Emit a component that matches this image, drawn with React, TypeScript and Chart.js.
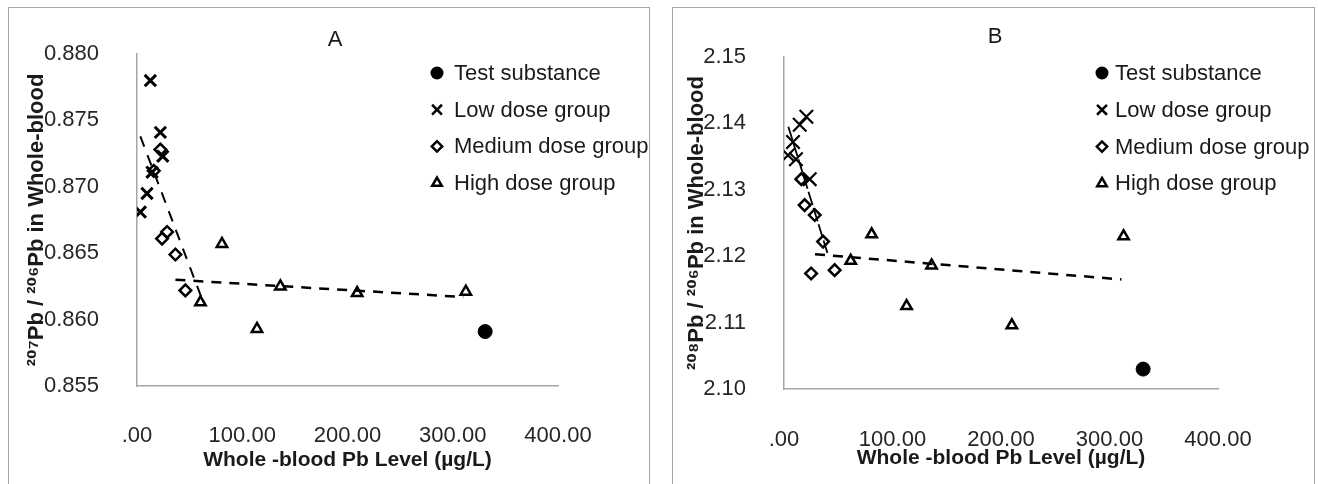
import React, { useEffect, useRef } from 'react';
import { Chart, registerables } from 'chart.js';

Chart.register(...registerables);

// ---------- shared ----------
const seriesNames = ['Test substance', 'Low dose group', 'Medium dose group', 'High dose group'];
const xTicks = [0, 100, 200, 300, 400];
const xTickLabels = ['.00', '100.00', '200.00', '300.00', '400.00'];
const xTitle = 'Whole -blood Pb Level (µg/L)';

// ---------- panel A : 207Pb/206Pb ----------
const yTicksA = [0.855, 0.86, 0.865, 0.87, 0.875, 0.88];
const yTickLabelsA = ['0.855', '0.860', '0.865', '0.870', '0.875', '0.880'];
const testXA = [330.8];
const testYA = [0.8591];
const lowXA = [3.2, 9.5, 12.7, 14.3, 22.2, 24.5];
const lowYA = [0.8681, 0.8695, 0.878, 0.8711, 0.8741, 0.8723];
const medXA = [15.9, 22.2, 23.8, 28.6, 36.5, 46];
const medYA = [0.8712, 0.8728, 0.8661, 0.8666, 0.8649, 0.8622];
const highXA = [60.3, 80.7, 114, 136.2, 209.2, 312.4];
const highYA = [0.8613, 0.8657, 0.8593, 0.8625, 0.862, 0.8621];
const trend1XA = [3.2, 62];
const trend1YA = [0.8738, 0.8615];
const trend2XA = [36.5, 310];
const trend2YA = [0.863, 0.8617];

// ---------- panel B : 208Pb/206Pb ----------
const yTicksB = [2.1, 2.11, 2.12, 2.13, 2.14, 2.15];
const yTickLabelsB = ['2.10', '2.11', '2.12', '2.13', '2.14', '2.15'];
const testXB = [331];
const testYB = [2.103];
const lowXB = [3.7, 8.3, 11, 14.5, 20.6, 23.7];
const lowYB = [2.1352, 2.1372, 2.1346, 2.1398, 2.141, 2.1316];
const medXB = [16, 19, 25, 28.3, 36, 46.7];
const medYB = [2.1316, 2.1277, 2.1174, 2.1262, 2.1222, 2.1179];
const highXB = [61.5, 80.8, 113, 136, 210, 313];
const highYB = [2.1193, 2.1233, 2.1125, 2.1186, 2.1096, 2.123];
const trend1XB = [4, 40];
const trend1YB = [2.1395, 2.1205];
const trend2XB = [28.6, 311];
const trend2YB = [2.1203, 2.1165];

const FONT = "'Liberation Sans', Arial, 'DejaVu Sans', sans-serif";
const TEXT = '#1a1a1a';
const AXIS = '#a6a6a6';

const pts = (xs: number[], ys: number[]) => xs.map((x, i) => ({ x, y: ys[i] }));

function drawMarker(ctx: CanvasRenderingContext2D, style: string, x: number, y: number, r: number, lw: number) {
  ctx.save();
  ctx.lineWidth = lw;
  ctx.strokeStyle = '#000';
  ctx.fillStyle = '#000';
  ctx.beginPath();
  if (style === 'circle') {
    ctx.arc(x, y, r, 0, Math.PI * 2);
    ctx.fill();
  } else if (style === 'crossRot') {
    const d = r * Math.SQRT1_2;
    ctx.moveTo(x - d, y - d);
    ctx.lineTo(x + d, y + d);
    ctx.moveTo(x + d, y - d);
    ctx.lineTo(x - d, y + d);
    ctx.stroke();
  } else if (style === 'rectRot') {
    ctx.moveTo(x - r, y);
    ctx.lineTo(x, y - r);
    ctx.lineTo(x + r, y);
    ctx.lineTo(x, y + r);
    ctx.closePath();
    ctx.stroke();
  } else {
    const s = Math.sin((2 * Math.PI) / 3) * r;
    ctx.moveTo(x, y - r);
    ctx.lineTo(x + s, y + r / 2);
    ctx.lineTo(x - s, y + r / 2);
    ctx.closePath();
    ctx.stroke();
  }
  ctx.restore();
}

const legendPlugin = {
  id: 'panelLegend',
  afterDraw(chart: any, _args: any, opts: any) {
    const ctx = chart.ctx as CanvasRenderingContext2D;
    const items = chart.data.datasets.filter((d: any) => d.inLegend);
    items.forEach((d: any, i: number) => {
      const y = opts.y + i * opts.rowHeight;
      drawMarker(ctx, d.legendStyle, opts.markerX, y, d.legendRadius, d.legendWidth);
      ctx.save();
      ctx.font = `22px ${FONT}`;
      ctx.fillStyle = TEXT;
      ctx.textAlign = 'left';
      ctx.textBaseline = 'middle';
      ctx.fillText(d.label, opts.textX, y + 1);
      ctx.restore();
    });
  },
};

type PanelCfg = {
  title: string;
  yTitle: string;
  yMin: number;
  yMax: number;
  yTicks: number[];
  yTickLabels: string[];
  test: { x: number; y: number }[];
  low: { x: number; y: number }[];
  med: { x: number; y: number }[];
  high: { x: number; y: number }[];
  t1: { x: number; y: number }[];
  t2: { x: number; y: number }[];
  t1Dash: number[];
  t1Width: number;
  crossR: number;
  crossW: number;
  padding: { left: number; right: number; top: number; bottom: number };
  titlePad: { top: number; bottom: number };
  yWidth: number;
  xHeight: number;
  xTickPad: number;
  legend: { markerX: number; textX: number; y: number; rowHeight: number };
};

function buildConfig(p: PanelCfg): any {
  return {
    type: 'scatter',
    data: {
      datasets: [
        {
          label: seriesNames[0], data: p.test, pointStyle: 'circle', pointRadius: 7,
          backgroundColor: '#000', borderColor: '#000', borderWidth: 1,
          inLegend: true, legendStyle: 'circle', legendRadius: 6.5, legendWidth: 1,
        },
        {
          label: seriesNames[1], data: p.low, pointStyle: 'crossRot', pointRadius: p.crossR,
          backgroundColor: 'rgba(0,0,0,0)', borderColor: '#000', borderWidth: p.crossW,
          inLegend: true, legendStyle: 'crossRot', legendRadius: 7, legendWidth: 2.5,
        },
        {
          label: seriesNames[2], data: p.med, pointStyle: 'rectRot', pointRadius: 5.8,
          backgroundColor: 'rgba(0,0,0,0)', borderColor: '#000', borderWidth: 2.5,
          inLegend: true, legendStyle: 'rectRot', legendRadius: 5.2, legendWidth: 2.5,
        },
        {
          label: seriesNames[3], data: p.high, pointStyle: 'triangle', pointRadius: 6,
          backgroundColor: 'rgba(0,0,0,0)', borderColor: '#000', borderWidth: 2.5,
          inLegend: true, legendStyle: 'triangle', legendRadius: 5.5, legendWidth: 2.5,
        },
        {
          label: 'trend1', data: p.t1, showLine: true, pointRadius: 0, borderColor: '#000',
          borderWidth: p.t1Width, borderDash: p.t1Dash, fill: false,
        },
        {
          label: 'trend2', data: p.t2, showLine: true, pointRadius: 0, borderColor: '#000',
          borderWidth: 2.5, borderDash: [10, 8], fill: false,
        },
      ],
    },
    options: {
      responsive: false,
      animation: false,
      events: [],
      layout: { padding: p.padding },
      plugins: {
        legend: { display: false },
        tooltip: { enabled: false },
        title: {
          display: true,
          text: p.title,
          color: TEXT,
          font: { family: FONT, size: 22, weight: 'normal', lineHeight: 1 },
          padding: p.titlePad,
        },
        panelLegend: p.legend,
      },
      scales: {
        x: {
          type: 'linear',
          min: 0,
          max: 400,
          afterBuildTicks: (s: any) => { s.ticks = xTicks.map((v) => ({ value: v })); },
          afterFit: (s: any) => { s.height = p.xHeight; },
          grid: { display: false },
          border: { display: true, color: AXIS, width: 1.5 },
          ticks: {
            padding: p.xTickPad,
            color: '#262626',
            font: { family: FONT, size: 22 },
            maxRotation: 0,
            callback: (_v: any, i: number) => xTickLabels[i],
          },
          title: {
            display: true,
            text: xTitle,
            color: TEXT,
            font: { family: FONT, size: 21, weight: 'bold' },
            padding: 0,
          },
        },
        y: {
          type: 'linear',
          position: 'left',
          min: p.yMin,
          max: p.yMax,
          afterBuildTicks: (s: any) => { s.ticks = p.yTicks.map((v) => ({ value: v })); },
          afterFit: (s: any) => { s.width = p.yWidth; },
          grid: { display: false },
          border: { display: true, color: AXIS, width: 1.5 },
          ticks: {
            padding: 30,
            color: '#262626',
            font: { family: FONT, size: 22 },
            callback: (_v: any, i: number) => p.yTickLabels[i],
          },
          title: {
            display: true,
            text: p.yTitle,
            color: TEXT,
            font: { family: FONT, size: 22, weight: 'bold' },
            padding: 0,
          },
        },
        spacer: {
          type: 'linear',
          position: 'right',
          min: 0,
          max: 1,
          afterFit: (s: any) => { s.width = 88; },
          grid: { display: false },
          border: { display: false },
          ticks: { display: false },
        },
      },
    },
    plugins: [legendPlugin],
  };
}

const panelA: PanelCfg = {
  title: 'A',
  yTitle: '²⁰⁷Pb / ²⁰⁶Pb in Whole-blood',
  yMin: 0.855,
  yMax: 0.88,
  yTicks: yTicksA,
  yTickLabels: yTickLabelsA,
  test: pts(testXA, testYA),
  low: pts(lowXA, lowYA),
  med: pts(medXA, medYA),
  high: pts(highXA, highYA),
  t1: pts(trend1XA, trend1YA),
  t2: pts(trend2XA, trend2YA),
  t1Dash: [11, 9],
  t1Width: 2,
  crossR: 8,
  crossW: 3,
  padding: { left: 24, right: 14, top: 10, bottom: 11.4 },
  titlePad: { top: 19, bottom: 3 },
  yWidth: 113,
  xHeight: 86.6,
  xTickPad: 29,
  legend: { markerX: 437, textX: 454, y: 73, rowHeight: 36.7 },
};

const panelB: PanelCfg = {
  title: 'B',
  yTitle: '²⁰⁸Pb / ²⁰⁶Pb in Whole-blood',
  yMin: 2.1,
  yMax: 2.15,
  yTicks: yTicksB,
  yTickLabels: yTickLabelsB,
  test: pts(testXB, testYB),
  low: pts(lowXB, lowYB),
  med: pts(medXB, medYB),
  high: pts(highXB, highYB),
  t1: pts(trend1XB, trend1YB),
  t2: pts(trend2XB, trend2YB),
  t1Dash: [14, 3],
  t1Width: 1.8,
  crossR: 9.5,
  crossW: 2.2,
  padding: { left: 24, right: 12, top: 10, bottom: 13.4 },
  titlePad: { top: 16, bottom: 9 },
  yWidth: 100,
  xHeight: 81.6,
  xTickPad: 30,
  legend: { markerX: 442, textX: 455, y: 73, rowHeight: 36.8 },
};

function Panel({ cfg, left, width }: { cfg: PanelCfg; left: number; width: number }) {
  const ref = useRef<HTMLCanvasElement | null>(null);
  useEffect(() => {
    if (!ref.current) return;
    const chart = new Chart(ref.current, buildConfig(cfg));
    return () => chart.destroy();
  }, [cfg]);
  return (
    <canvas
      ref={ref}
      width={width}
      height={484}
      style={{ position: 'absolute', left, top: 0, width, height: 484 }}
    />
  );
}

export default function App() {
  return (
    <div
      style={{
        position: 'absolute',
        left: 0,
        top: 0,
        width: 1318,
        height: 484,
        overflow: 'hidden',
        background: '#fff',
      }}
    >
      <div
        style={{
          position: 'absolute', left: 8, top: 7, width: 642, height: 500,
          border: `1.5px solid ${AXIS}`, boxSizing: 'border-box',
        }}
      />
      <div
        style={{
          position: 'absolute', left: 672, top: 7, width: 643, height: 500,
          border: `1.5px solid ${AXIS}`, boxSizing: 'border-box',
        }}
      />
      <Panel cfg={panelA} left={0} width={660} />
      <Panel cfg={panelB} left={660} width={658} />
    </div>
  );
}
